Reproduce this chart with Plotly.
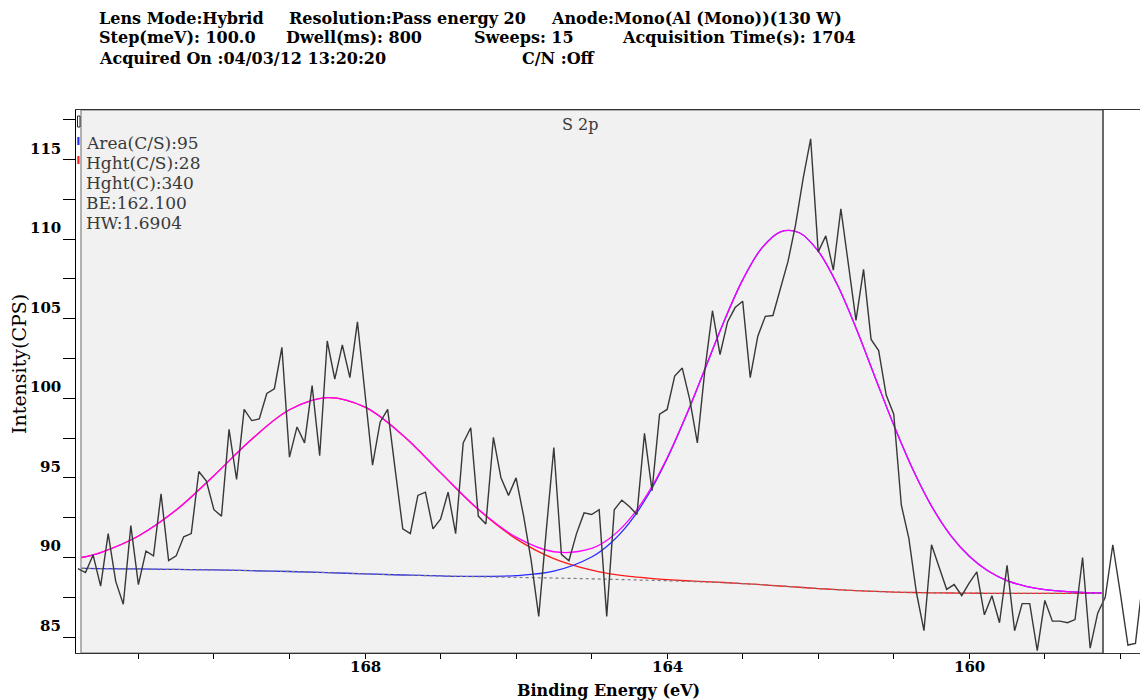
import plotly.graph_objects as go

# ---------------- data ----------------
BE_START = 171.8      # eV, first channel
BE_STEP = 0.1         # eV, Step(meV): 100.0
COUNTS = [
    89.3, 89.05, 90.16, 88.2, 91.5, 88.5, 87.06, 92.0, 88.3, 90.4,
    90.1, 94.0, 89.8, 90.1, 91.3, 91.5, 95.4, 94.8, 93.0, 92.6,
    98.05, 94.9, 99.3, 98.6, 98.7, 100.3, 100.6, 103.2, 96.3, 98.2,
    97.2, 100.8, 96.4, 103.6, 101.2, 103.35, 101.3, 104.8, 100.3, 95.8,
    98.5, 99.3, 95.5, 91.8, 91.5, 93.9, 94.1, 91.8, 92.4, 94.1,
    91.5, 97.2, 98.15, 92.6, 92.1, 97.55, 95.0, 93.9, 95.0, 92.6,
    89.8, 86.3, 91.7, 96.9, 90.2, 89.8, 91.5, 92.8, 92.7, 93.0,
    86.3, 93.0, 93.6, 93.2, 92.7, 97.8, 94.2, 99.0, 99.3, 101.4,
    101.9, 99.9, 97.2, 101.8, 105.5, 102.75, 104.8, 105.7, 106.1, 101.3,
    103.9, 105.15, 105.2, 106.9, 108.6, 110.9, 113.8, 116.3, 109.2, 110.2,
    108.05, 111.9, 108.35, 104.9, 108.1, 103.7, 103.0, 100.2, 99.0, 93.3,
    91.2, 87.8, 85.4, 90.8, 89.4, 88.0, 88.3, 87.6, 88.4, 89.1,
    86.4, 87.6, 85.9, 89.5, 85.4, 87.1, 87.1, 84.15, 87.3, 86.0,
    86.0, 85.9, 86.1, 90.0, 84.3, 86.5, 87.5, 90.8, 87.75, 84.5,
    84.6, 88.7,
]
BE = [round(BE_START - BE_STEP * i, 1) for i in range(len(COUNTS))]

# fitted components sampled along the fit region
FIT_E = [171.75, 171.5, 171.0, 170.5, 170.0, 169.5, 169.0, 168.5, 168.0, 167.5,
         167.0, 166.5, 166.0, 165.5, 165.0, 164.75, 164.5, 164.25, 164.0, 163.75,
         163.5, 163.25, 163.0, 162.75, 162.5, 162.25, 162.0, 161.75, 161.5, 161.25,
         161.0, 160.75, 160.5, 160.25, 160.0, 159.75, 159.5, 159.25, 159.0, 158.5,
         158.25]
BACKGROUND = [89.32, 89.30, 89.28, 89.25, 89.22, 89.17, 89.12, 89.05, 88.97, 88.90,
              88.84, 88.79, 88.75, 88.71, 88.66, 88.63, 88.60, 88.57, 88.54, 88.50,
              88.46, 88.42, 88.36, 88.29, 88.21, 88.13, 88.05, 87.98, 87.92, 87.87,
              87.83, 87.80, 87.78, 87.77, 87.76, 87.75, 87.75, 87.75, 87.75, 87.75,
              87.75]
PEAK_1 = [0.68, 1.01, 2.07, 3.73, 5.92, 8.26, 10.16, 10.99, 10.47, 8.78,
          6.49, 4.22, 2.42, 1.22, 0.54, 0.34, 0.21, 0.13, 0.07, 0.04,
          0.02, 0.01, 0.0, 0.0, 0.0, 0.0, 0.0, 0.0, 0.0, 0.0,
          0.0, 0.0, 0.0, 0.0, 0.0, 0.0, 0.0, 0.0, 0.0, 0.0,
          0.0]
PEAK_2 = [0.0, 0.0, 0.0, 0.0, 0.0, 0.0, 0.0, 0.0, 0.0, 0.0,
          0.0, 0.02, 0.11, 0.43, 1.37, 2.27, 3.58, 5.37, 7.66, 10.38,
          13.37, 16.38, 19.08, 21.13, 22.25, 22.27, 21.19, 19.18, 16.50, 13.49,
          10.49, 7.76, 5.45, 3.64, 2.32, 1.40, 0.80, 0.44, 0.23, 0.05,
          0.02]

X_TICKS = [171, 170, 169, 168, 167, 166, 165, 164, 163, 162, 161, 160, 159, 158]
X_LABELED = [168, 164, 160]
Y_TICKS = [85, 87.5, 90, 92.5, 95, 97.5, 100, 102.5, 105, 107.5, 110, 112.5, 115, 117.5]
Y_LABELED = [85, 90, 95, 100, 105, 110, 115]

HEADER = [
    ("Lens Mode:Hybrid", 97, 0), ("Resolution:Pass energy 20", 287, 0),
    ("Anode:Mono(Al (Mono))(130 W)", 549, 0),
    ("Step(meV): 100.0", 97, 1), ("Dwell(ms): 800", 284, 1),
    ("Sweeps: 15", 472, 1), ("Acquisition Time(s): 1704", 620, 1),
    ("Acquired On :04/03/12 13:20:20", 97, 2), ("C/N :Off", 520, 2),
]
INFO = ["Area(C/S):95", "Hght(C/S):28", "Hght(C):340", "BE:162.100", "HW:1.6904"]
REGION_TITLE = "S 2p"

X_RANGE = [171.826, 157.74]
Y_RANGE = [84.0, 118.11]
FIT_HI, FIT_LO = 171.76, 158.23

# ---------------- layout geometry ----------------
W, H = 1140, 700
ML, MR, MT, MB = 76, 0, 110, 47
PW, PH = W - ML - MR, H - MT - MB


def px_x(px):
    return (px - ML) / PW


def px_y(py):
    return (H - MB - py) / PH


SERIF = "DejaVu Serif"

env = [b + p1 + p2 for b, p1, p2 in zip(BACKGROUND, PEAK_1, PEAK_2)]
red = [b + p1 for b, p1 in zip(BACKGROUND, PEAK_1)]
blue = [b + p2 for b, p2 in zip(BACKGROUND, PEAK_2)]

fig = go.Figure()
fig.add_trace(go.Scatter(x=FIT_E, y=red, mode="lines", line=dict(color="#ff1a1a", width=1.3, shape="spline"),
                         hoverinfo="skip", showlegend=False))
fig.add_trace(go.Scatter(x=FIT_E, y=blue, mode="lines", line=dict(color="#2a2aff", width=1.3, shape="spline"),
                         hoverinfo="skip", showlegend=False))
fig.add_trace(go.Scatter(x=FIT_E, y=env, mode="lines", line=dict(color="#ff00ff", width=1.3, shape="spline"),
                         hoverinfo="skip", showlegend=False))
fig.add_trace(go.Scatter(x=FIT_E, y=BACKGROUND, mode="lines",
                         line=dict(color="#7a7a7a", width=1.2, dash="3px,3px", shape="spline"),
                         hoverinfo="skip", showlegend=False))
fig.add_trace(go.Scatter(x=BE, y=COUNTS, mode="lines", line=dict(color="#383838", width=1.4),
                         showlegend=False))

shapes = [
    dict(type="rect", xref="x", yref="paper", x0=FIT_HI, x1=FIT_LO, y0=0, y1=1,
         fillcolor="#f1f1f1", line=dict(color="#6a6a6a", width=1), layer="below"),
    dict(type="line", xref="x", yref="paper", x0=FIT_LO, x1=FIT_LO, y0=0, y1=1,
         line=dict(color="#555555", width=1.6)),
    # small markers in the gutter at the top-left
    dict(type="rect", xref="paper", yref="paper", x0=px_x(77.5), x1=px_x(80), y0=px_y(127), y1=px_y(116),
         line=dict(color="#222222", width=1), fillcolor="rgba(0,0,0,0)"),
    dict(type="rect", xref="paper", yref="paper", x0=px_x(77.3), x1=px_x(79.5), y0=px_y(145), y1=px_y(137),
         line=dict(width=0), fillcolor="#2233ff"),
    dict(type="rect", xref="paper", yref="paper", x0=px_x(77.3), x1=px_x(79.5), y0=px_y(164), y1=px_y(156),
         line=dict(width=0), fillcolor="#ff2222"),
]

annotations = []
for text, xpx, line in HEADER:
    annotations.append(dict(text=text, xref="paper", yref="paper", x=px_x(xpx), y=px_y(18 + 20 * line),
                            xanchor="left", yanchor="middle", showarrow=False,
                            font=dict(family=SERIF, size=16, color="#000000", weight="bold")))
for i, text in enumerate(INFO):
    annotations.append(dict(text=text, xref="paper", yref="paper", x=px_x(84), y=px_y(142.7 + 20 * i),
                            xanchor="left", yanchor="middle", showarrow=False,
                            font=dict(family=SERIF, size=17, color="#3a3a3a")))
annotations.append(dict(text=REGION_TITLE, xref="paper", yref="paper", x=px_x(580), y=px_y(124),
                        xanchor="center", yanchor="middle", showarrow=False,
                        font=dict(family=SERIF, size=16, color="#3a3a3a")))
for v in Y_LABELED:
    annotations.append(dict(text=str(v), xref="paper", yref="y", x=0, y=v, xshift=-13, yshift=11,
                            xanchor="right", yanchor="middle", showarrow=False,
                            font=dict(family=SERIF, size=15, color="#000000", weight="bold")))
for t in X_LABELED:
    annotations.append(dict(text=str(t), xref="x", yref="paper", x=t, y=0, yshift=-14,
                            xanchor="center", yanchor="middle", showarrow=False,
                            font=dict(family=SERIF, size=15, color="#000000", weight="bold")))
annotations.append(dict(text="Binding Energy (eV)", xref="paper", yref="paper", x=0.5, y=px_y(690),
                        xanchor="center", yanchor="middle", showarrow=False,
                        font=dict(family=SERIF, size=16, color="#000000", weight="bold")))
annotations.append(dict(text="Intensity(CPS)", xref="paper", yref="paper", x=px_x(19), y=px_y(364),
                        xanchor="center", yanchor="middle", showarrow=False, textangle=-90,
                        font=dict(family=SERIF, size=19, color="#000000")))

fig.update_layout(
    width=W, height=H,
    margin=dict(l=ML, r=MR, t=MT, b=MB, pad=0, autoexpand=False),
    paper_bgcolor="white", plot_bgcolor="white",
    shapes=shapes, annotations=annotations,
    xaxis=dict(range=X_RANGE, tickmode="array", tickvals=X_TICKS, automargin=False,
               showticklabels=False,
               ticks="outside", ticklen=5, tickwidth=1, tickcolor="#000000",
               showline=True, linecolor="#333333", linewidth=1.2, mirror=True,
               showgrid=False, zeroline=False),
    yaxis=dict(range=Y_RANGE, tickmode="array", tickvals=Y_TICKS, showticklabels=False, automargin=False,
               ticks="outside", ticklen=12, tickwidth=1, tickcolor="#000000",
               showline=True, linecolor="#000000", linewidth=1.2, mirror=False,
               showgrid=False, zeroline=False),
)

fig.write_html("out.html", config={"displayModeBar": False},
               post_script="document.body.style.margin='0';document.body.style.overflow='hidden';")
